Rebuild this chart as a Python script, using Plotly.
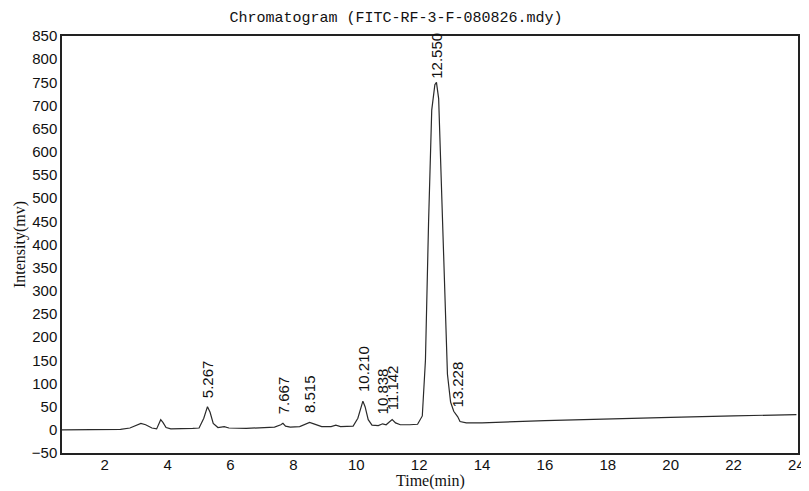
import plotly.graph_objects as go

# Chromatogram trace (time in min, intensity in mV)
time_min = [0.64, 1.5, 2.0, 2.5, 2.8, 3.0, 3.15, 3.3, 3.5, 3.65, 3.72, 3.78, 3.85, 3.95,
            4.1, 4.5, 4.8, 5.0, 5.15, 5.267, 5.35, 5.45, 5.6, 5.8, 5.95, 6.5, 7.0, 7.4,
            7.6, 7.667, 7.75, 7.9, 8.2, 8.4, 8.515, 8.65, 8.9, 9.2, 9.35, 9.5, 9.9,
            10.05, 10.15, 10.21, 10.28, 10.38, 10.5, 10.7, 10.838, 10.95, 11.05, 11.142,
            11.25, 11.4, 11.7, 11.95, 12.1, 12.2, 12.3, 12.4, 12.5, 12.55, 12.62, 12.7,
            12.8, 12.9, 13.0, 13.1, 13.228, 13.3, 13.5, 14.0, 16.0, 18.0, 20.0, 22.0, 24.0]
intensity = [0, 0, 0.5, 1, 4, 10, 14, 11, 4, 2, 12, 22, 16, 5,
             2, 2, 3, 4, 25, 50, 38, 14, 5, 7, 4, 3, 4, 6,
             11, 14, 8, 6, 7, 13, 16, 13, 7, 7, 10, 7, 8,
             25, 52, 62, 50, 22, 10, 9, 13, 11, 17, 22,
             15, 11, 11, 12, 30, 150, 450, 690, 745, 750, 715, 540,
             300, 120, 60, 40, 28, 18, 15, 15, 20, 24, 27, 30, 33]

peak_times = [5.267, 7.667, 8.515, 10.210, 10.838, 11.142, 12.550, 13.228]
peak_labels = ["5.267", "7.667", "8.515", "10.210", "10.838", "11.142", "12.550", "13.228"]

x_ticks = [2, 4, 6, 8, 10, 12, 14, 16, 18, 20, 22, 24]
y_ticks = list(range(-50, 851, 50))

# the page body adds an 8px offset; the figure is sized to fill the rest of the window
W, H = 801, 483
ML, MR, MT, MB = 54, 4, 28, 38
PLOT_H = H - MT - MB

fig = go.Figure()
fig.add_trace(go.Scatter(x=time_min, y=intensity, mode="lines",
                         line=dict(color="#2a2a2a", width=1.2), hoverinfo="skip"))

def value_at(t):
    i = min(range(len(time_min)), key=lambda k: abs(time_min[k] - t))
    return intensity[i]

for t, lab in zip(peak_times, peak_labels):
    fig.add_annotation(x=t, y=value_at(t), text=lab, textangle=-90, showarrow=False,
                       xanchor="center", yanchor="bottom", yshift=7 if lab != "12.550" else 2,
                       font=dict(family="Liberation Sans, Arial", size=15, color="#111111"))

# x-axis title placed as a paper annotation so it can sit close under the tick labels
fig.add_annotation(text="Time(min)", xref="paper", yref="paper", x=0.5, y=-28 / PLOT_H,
                   xanchor="center", yanchor="middle", showarrow=False,
                   font=dict(family="Liberation Serif, Times New Roman", size=16, color="#111111"))

fig.update_layout(
    width=W, height=H,
    margin=dict(l=ML, r=MR, t=MT, b=MB),
    paper_bgcolor="white", plot_bgcolor="white",
    showlegend=False,
    title=dict(text="Chromatogram (FITC-RF-3-F-080826.mdy)", x=388 / W, xanchor="center",
               y=1 - 9 / H, yanchor="middle",
               font=dict(family="Liberation Mono, monospace", size=15, color="#111111")),
    xaxis=dict(range=[0.64, 24.05], tickvals=x_ticks, showgrid=False, zeroline=False,
               showline=True, linecolor="#222222", linewidth=1.5, mirror=True, ticks="",
               ticklabeloverflow="allow", ticklabelstandoff=-3,
               tickfont=dict(family="Liberation Sans, Arial", size=15, color="#111111")),
    yaxis=dict(range=[-50, 850], tickvals=y_ticks, showgrid=False, zeroline=False,
               showline=True, linecolor="#222222", linewidth=1.5, mirror=True, ticks="",
               tickfont=dict(family="Liberation Sans, Arial", size=15, color="#111111"),
               title=dict(text="Intensity(mv)", standoff=2,
                          font=dict(family="Liberation Serif, Times New Roman", size=16, color="#111111"))),
)

fig.write_html("out.html")
